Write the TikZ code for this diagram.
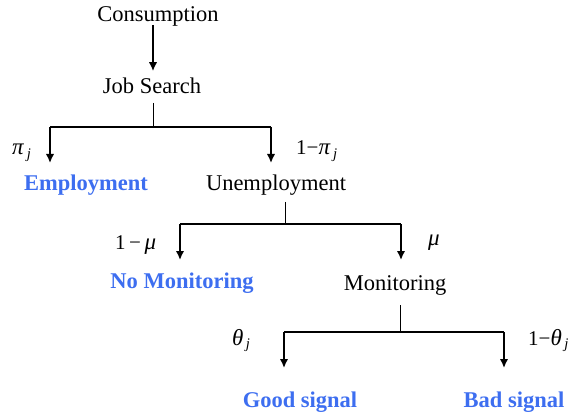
\documentclass[tikz,border=0pt]{standalone}
\usepackage{fontspec}
\setmainfont{Liberation Serif}
\usetikzlibrary{arrows.meta}
\definecolor{outcome}{RGB}{61,110,240}
\tikzset{
	state/.style = {font = \fontsize{22.5}{26}\selectfont, inner sep = 0pt, anchor = base},
	final/.style = {state, font = \fontsize{22.5}{26}\selectfont\bfseries, text = outcome},
	prob/.style = {font = \fontsize{21}{24}\selectfont, inner sep = 0pt, anchor = base west},
	branch/.style = {line width = 2.2pt, -{Latex[length = 9pt, width = 8.5pt]}},
	stem/.style = {line width = 0.9pt},
	bar/.style = {line width = 1.2pt}
}
\newcommand{\sub}[1]{\hspace{2.5pt}\textsubscript{\textit{#1}}}
\newcommand{\gr}[1]{{\fontsize{23}{24}\selectfont\textit{#1}}}

\begin{document}
\begin{tikzpicture}[x = 1pt, y = -1pt]
	
	\useasboundingbox (0,0) rectangle (576,417);
	
	% states
	\node[state] (cons) at (158,22) {Consumption};
	\node[state] (search) at (152,94) {Job Search};
	\node[final] (emp) at (86,190) {Employment};
	\node[state] (unemp) at (276,190) {Unemployment};
	\node[final] (nomon) at (182,288) {No Monitoring};
	\node[state] (mon) at (395,290) {Monitoring};
	\node[final] (good) at (300,407) {Good signal};
	\node[final] (bad) at (514,407) {Bad signal};
	
	% probabilities
	\node[prob] (p-emp) at (12,155) {\gr{π}\sub{j}};
	\node[prob] (p-unemp) at (296,155) {1−\gr{π}\sub{j}};
	\node[prob] (p-nomon) at (115,249) {1\,−\,\gr{μ}};
	\node[prob] (p-mon) at (428,245) {\gr{μ}};
	\node[prob] (p-good) at (232,345) {\gr{θ}\sub{j}};
	\node[prob] (p-bad) at (528,345) {1−\gr{θ}\sub{j}};
	
	% first step
	\draw[branch] (cons.base -| 153,0) ++(0,3) -- ([yshift = 7pt]search.north -| 153,0);
	
	% forks
	\coordinate (F1) at (153,127);
	\coordinate (F2) at (285,224);
	\coordinate (F3) at (400,332);
	\coordinate (L1) at (50,127);
	\coordinate (R1) at (271,127);
	\coordinate (L2) at (180,224);
	\coordinate (R2) at (401,224);
	\coordinate (L3) at (284,332);
	\coordinate (R3) at (504,332);
	
	\draw[stem] (search.base -| F1) ++(0,9) -- (F1);
	\draw[stem] (unemp.base -| F2) ++(0,12) -- (F2);
	\draw[stem] (mon.base -| F3) ++(0,15) -- (F3);
	
	\foreach \k in {1,2,3} {
		\draw[bar] (L\k) -- (R\k);
		\draw[branch] (L\k) -- ++(0,36) coordinate (L\k-end);
		\draw[branch] (R\k) -- ++(0,36) coordinate (R\k-end);
	}
	
\end{tikzpicture}
\end{document}
